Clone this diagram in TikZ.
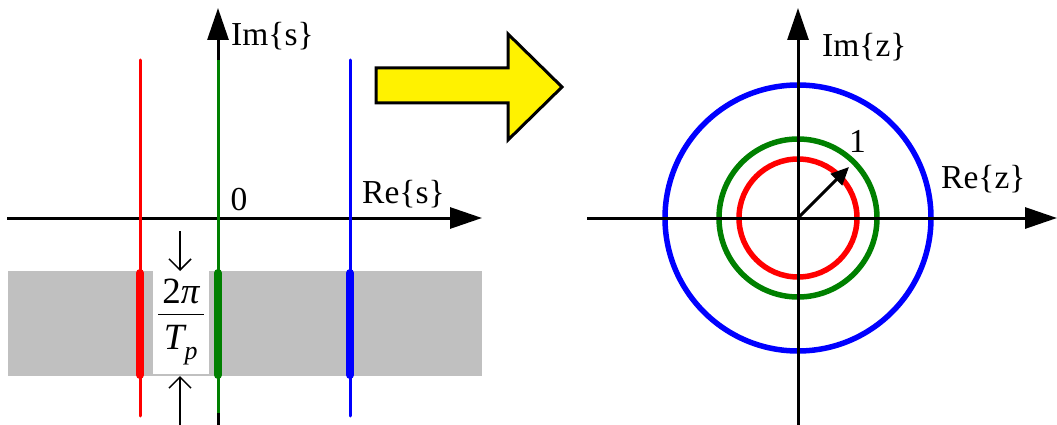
\documentclass[tikz,border=0pt]{standalone}
\usepackage{amsmath}
\usepackage{fontspec}
\setmainfont{Liberation Serif}
\usetikzlibrary{arrows.meta}
\definecolor{bandgray}{HTML}{C0C0C0}
\definecolor{dkgreen}{HTML}{008000}
\tikzset{
  axis/.style={line width=3pt, -{Triangle[length=32pt,width=21pt]}},
  pole/.style={line width=3pt, line cap=round},
  band/.style={line width=8pt, line cap=round},
  ring/.style={line width=5.5pt},
  lbl/.style={inner sep=0pt, font=\fontsize{33.5}{40}\selectfont},
  gap/.style={line width=1.5pt, -{Straight Barb[length=11pt,width=22pt]}},
}
\begin{document}
\begin{tikzpicture}[x=1pt,y=-1pt]
\useasboundingbox (0,0) rectangle (1057,425);
% ---------- s-plane ----------
\fill[bandgray] (8,271) rectangle (482,376);
\fill[white] (153,271) rectangle (209,374);
\coordinate (sxl) at (7,218);
\coordinate (sxr) at (482,218);
\coordinate (syb) at (218,425);
\coordinate (syt) at (218,8);
\draw[axis] (sxl) -- (sxr);
\draw[axis] (syb) -- (syt);
% constant-sigma lines
\coordinate (rt) at (140,60);  \coordinate (rb) at (140,416);
\coordinate (gt) at (218,60);  \coordinate (gb) at (218,413);
\coordinate (bt) at (350,60);  \coordinate (bb) at (350,416);
\draw[pole, red] (rt) -- (rb);
\draw[pole, dkgreen, line cap=butt] (gt) -- (gb);
\draw[pole, blue] (bt) -- (bb);
% one period strip
\coordinate (r1) at (140,273); \coordinate (r2) at (140,375);
\coordinate (g1) at (218,273); \coordinate (g2) at (218,375);
\coordinate (b1) at (350,273); \coordinate (b2) at (350,375);
\draw[band, red] (r1) -- (r2);
\draw[band, dkgreen] (g1) -- (g2);
\draw[band, blue] (b1) -- (b2);
% period marker
\node[inner sep=0pt, font=\fontsize{37}{44}\selectfont] (per) at (181,322)
  {$\dfrac{\,\text{2\itshape π}\rule[-7pt]{0pt}{7pt}\,}
          {\rule{0pt}{32pt}\text{\itshape T}_{\text{\raisebox{-6pt}{\itshape p}}}}$};
\coordinate (dtop) at (180,231); \coordinate (dbot) at (180,271);
\coordinate (utop) at (180,376); \coordinate (ubot) at (180,425);
\draw[gap] (dtop) -- (dbot);
\draw[gap] (ubot) -- (utop);
\node[lbl] (zero) at (239,200) {0};
\node[lbl, anchor=base west] (res) at (362,203) {Re\{s\}};
\node[lbl, anchor=base west] (ims) at (231,46) {Im\{s\}};
% ---------- mapping arrow ----------
\draw[line width=3pt, fill=yellow] (376,68) -- (508,68) -- (508,34) -- (562,87)
  -- (508,140) -- (508,103) -- (376,103) -- cycle;
% ---------- z-plane ----------
\coordinate (zc) at (798,218);
\coordinate (zxl) at (587,218);
\coordinate (zxr) at (1057,218);
\coordinate (zyb) at (798,425);
\coordinate (zyt) at (798,8);
\draw[ring, blue] (zc) circle[radius=133];
\draw[ring, dkgreen] (zc) circle[radius=79];
\draw[ring, red] (zc) circle[radius=59];
\draw[axis] (zxl) -- (zxr);
\draw[axis] (zyb) -- (zyt);
\coordinate (utip) at (849,167);
\draw[line width=3pt, -{Triangle[length=18pt,width=16pt]}] (zc) -- (utip);
\node[lbl, anchor=base west] (one) at (849,152) {1};
\node[lbl, anchor=base west] (imz) at (822,57) {Im\{z\}};
\node[lbl, anchor=base west] (rez) at (941,188) {Re\{z\}};
\end{tikzpicture}
\end{document}
